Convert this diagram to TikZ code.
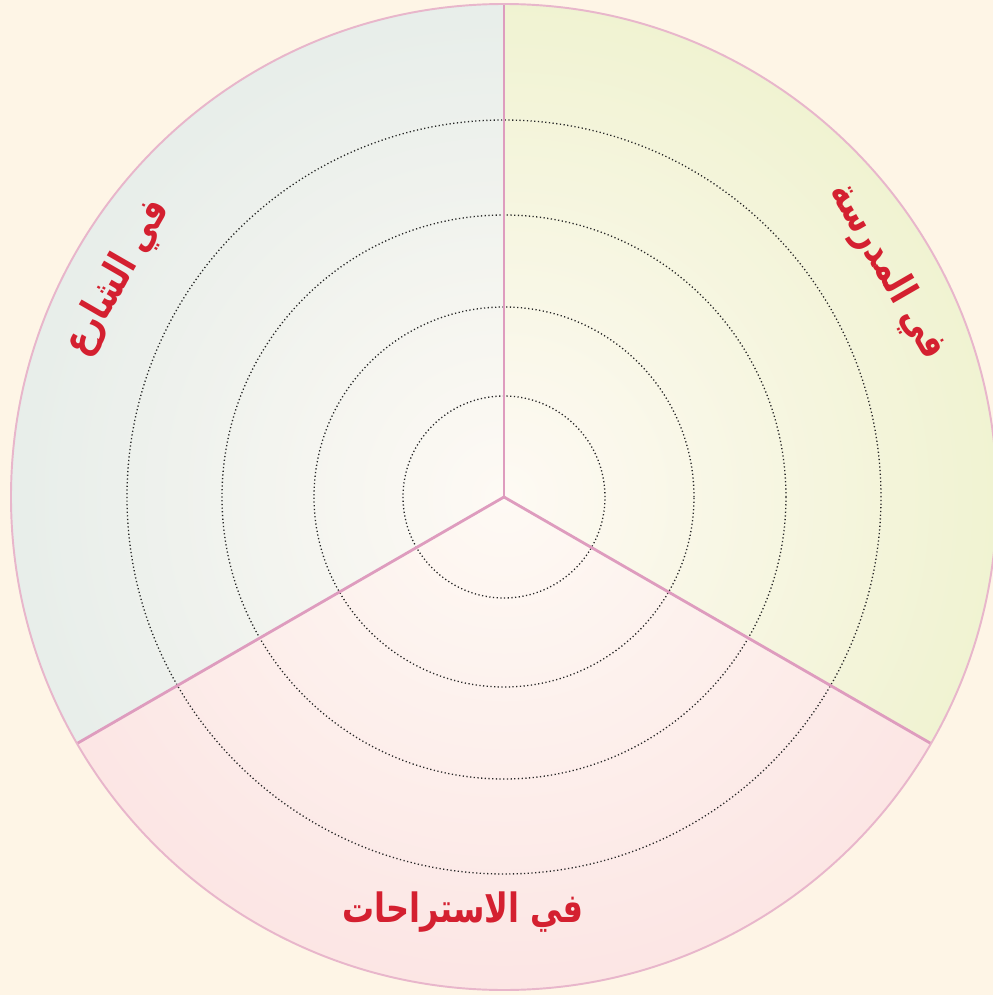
\documentclass[tikz,border=0pt]{standalone}
\usepackage{fontspec}
\newfontfamily\arabicfont[Script=Arabic, FakeStretch=0.79]{DejaVu Sans}
\TeXXeTstate=1
\definecolor{paper}{HTML}{FEF5E6}
\definecolor{rimpink}{HTML}{E8B6CB}
\definecolor{linepink}{HTML}{DE9CBE}
\definecolor{core}{HTML}{FEFAF4}
\definecolor{schoolgreen}{HTML}{EAEFC2}
\definecolor{streetgrey}{HTML}{DDE8E5}
\definecolor{breakpink}{HTML}{FBDCDD}
\definecolor{titlered}{HTML}{D42030}
\usetikzlibrary{positioning}

\begin{document}
\begin{tikzpicture}[
  x=0.02cm, y=0.02cm,
  divider/.style={draw=linepink, line width=1.6pt},
  rim/.style={draw=rimpink, line width=1.1pt},
  ring/.style={draw=black!85, line width=0.75pt, dash pattern=on 0.7pt off 1.4pt},
  zonetext/.style={text=titlered, font=\fontsize{23}{28}\selectfont\arabicfont\bfseries, inner sep=0pt}
]
% page
\fill[paper] (-504,-498) rectangle (489,497);
\useasboundingbox (-504,-498) rectangle (489,497);

\coordinate (o) at (0,0);
\coordinate (top) at (90:493);
\coordinate (lowright) at (-30:493);
\coordinate (lowleft) at (210:493);

% three zones
\begin{scope}
  \clip (o) -- (top) arc[start angle=90, end angle=-30, radius=493] -- cycle;
  \shade[inner color=core, outer color=schoolgreen] (o) circle (720);
\end{scope}
\begin{scope}
  \clip (o) -- (top) arc[start angle=90, end angle=210, radius=493] -- cycle;
  \shade[inner color=core, outer color=streetgrey] (o) circle (720);
\end{scope}
\begin{scope}
  \clip (o) -- (lowleft) arc[start angle=210, end angle=330, radius=493] -- cycle;
  \shade[inner color=core, outer color=breakpink] (o) circle (720);
\end{scope}

% dotted rings
\foreach \r in {101,190,282,377}
  \draw[ring] (o) circle (\r);

% dividers and rim
\draw[divider] (o) -- (top);
\draw[divider] (o) -- (lowright);
\draw[divider] (o) -- (lowleft);
\draw[rim] (o) circle (493);

% zone names
\node[zonetext, rotate=-60] (school) at (30.5:445) {\beginR في المدرسة\endR};
\node[zonetext, rotate=60] (street) at (150.4:444) {\beginR في الشارع\endR};
\node[zonetext] (breaks) at (-41,-415) {\beginR في الاستراحات\endR};
\end{tikzpicture}
\end{document}
